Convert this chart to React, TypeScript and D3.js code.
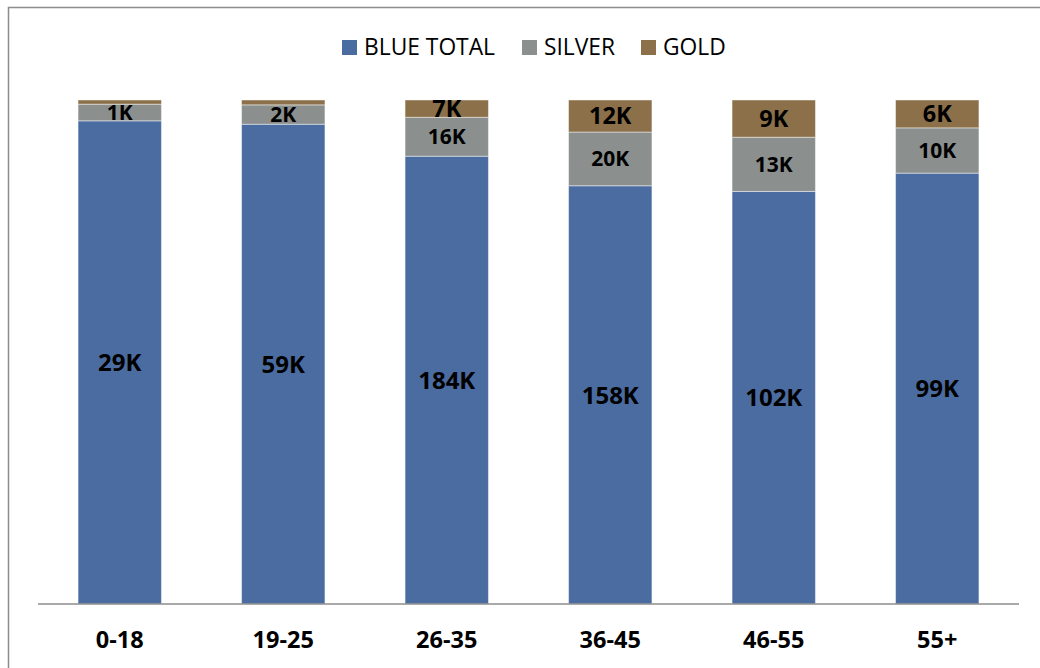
import React from "react";
import * as d3 from "d3";

const categories = ["0-18", "19-25", "26-35", "36-45", "46-55", "55+"];
const blueTotal = [29, 59.4, 184, 158, 102, 99];
const silver = [1.0, 2.4, 16, 20.3, 13.4, 10.4];
const gold = [0.25, 0.6, 7.1, 12.1, 9.2, 6.4];
const seriesNames = ["BLUE TOTAL", "SILVER", "GOLD"];
const seriesKeys = ["blue", "silver", "gold"];

const colors: Record<string, string> = { blue: "#4b6ca1", silver: "#8b908f", gold: "#8b7049" };
const labelSizes: Record<string, number> = { blue: 24, silver: 21, gold: 23.5 };

const W = 1040;
const H = 668;
const FONT = "'Open Sans', 'Liberation Sans', sans-serif";

export default function App() {
  const rows = categories.map((c, i) => ({ cat: c, blue: blueTotal[i], silver: silver[i], gold: gold[i] }));
  const stack = d3.stack<any>().keys(seriesKeys).offset(d3.stackOffsetExpand);
  const series = stack(rows);

  const x = d3.scaleBand<string>().domain(categories).range([38, 1019]).paddingInner(0.49).paddingOuter(0.245);
  const y = d3.scaleLinear().domain([0, 1]).range([604, 100]);

  const legendX = [342, 522, 641];

  return (
    <svg width={W} height={H} style={{ position: "absolute", left: 0, top: 0, background: "#fff" }}>
      <rect x={8.5} y={7.5} width={W + 10} height={H + 10} fill="#fff" stroke="#8c8c8c" strokeWidth={1.5} />
      {/* legend */}
      {seriesKeys.map((k, i) => (
        <g key={k}>
          <rect x={legendX[i]} y={40} width={15} height={15} fill={colors[k]} />
          <text x={legendX[i] + 22} y={55} fontFamily={FONT} fontSize={22.8} fill="#000">
            {seriesNames[i]}
          </text>
        </g>
      ))}
      {/* bars */}
      {series.map((s) => (
        <g key={s.key}>
          {s.map((d, i) => {
            const y0 = y(d[1]);
            const y1 = y(d[0]);
            const h = y1 - y0;
            const xc = (x(categories[i]) as number) + x.bandwidth() / 2;
            const raw = (d.data as any)[s.key] as number;
            const fs = labelSizes[s.key];
            return (
              <g key={i}>
                <rect
                  x={x(categories[i])}
                  y={y0}
                  width={x.bandwidth()}
                  height={h}
                  fill={colors[s.key]}
                  stroke="rgba(255,255,255,0.45)"
                  strokeWidth={1}
                />
                {h >= 12 && (
                  <text
                    x={xc}
                    y={(y0 + y1) / 2 + fs * 0.36}
                    textAnchor="middle"
                    fontFamily={FONT}
                    fontWeight="bold"
                    fontSize={fs}
                    fill="#000"
                  >
                    {Math.round(raw) + "K"}
                  </text>
                )}
              </g>
            );
          })}
        </g>
      ))}
      {/* axis */}
      <line x1={38} x2={1019} y1={604} y2={604} stroke="#8c8c8c" strokeWidth={1.5} />
      {categories.map((c) => (
        <text
          key={c}
          x={(x(c) as number) + x.bandwidth() / 2}
          y={648}
          textAnchor="middle"
          fontFamily={FONT}
          fontWeight="bold"
          fontSize={23.5}
          fill="#000"
        >
          {c}
        </text>
      ))}
    </svg>
  );
}
